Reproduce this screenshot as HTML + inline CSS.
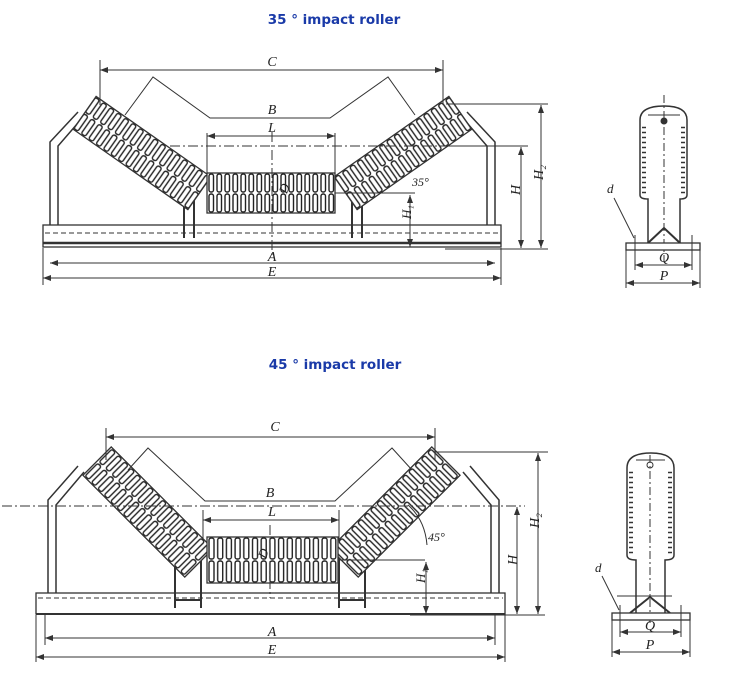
<!DOCTYPE html>
<html><head><meta charset="utf-8"><style>
html,body{margin:0;padding:0;background:#fff}
svg{display:block}
text{font-family:"Liberation Serif",serif;font-style:italic;fill:#222}
.t{font-family:"DejaVu Sans","Liberation Sans",sans-serif;font-style:normal;font-weight:bold;fill:#1a3aa8;font-size:13.5px}
</style></head><body>
<svg width="729" height="685" viewBox="0 0 729 685" xmlns="http://www.w3.org/2000/svg">
<defs>
<pattern id="rib" width="9" height="20" patternUnits="userSpaceOnUse" x="0" y="0">
<rect width="9" height="20" fill="#fff"/>
<rect x="2" y="1" width="5" height="18" rx="2" fill="#fff" stroke="#222" stroke-width="1.4"/>
</pattern>
<pattern id="ribc1" width="8" height="20" patternUnits="userSpaceOnUse" x="207" y="173">
<rect width="8" height="20" fill="#fff"/>
<rect x="2" y="1" width="4.5" height="18" rx="2" fill="#fff" stroke="#222" stroke-width="1.4"/>
</pattern>
<pattern id="ribc2" width="8.7" height="23" patternUnits="userSpaceOnUse" x="207" y="537">
<rect width="9" height="23" fill="#fff"/>
<rect x="2" y="1" width="5" height="21" rx="2" fill="#fff" stroke="#222" stroke-width="1.4"/>
</pattern>
<pattern id="rib2" width="4" height="5" patternUnits="userSpaceOnUse">
<rect width="4" height="5" fill="#fff"/><line x1="0" y1="2.5" x2="4" y2="2.5" stroke="#333" stroke-width="1.5"/>
</pattern>
<marker id="a" markerWidth="8" markerHeight="6" refX="8" refY="3" orient="auto-start-reverse"><path d="M0,0 L8,3 L0,6z" fill="#333"/></marker>
</defs>
<g stroke="#333" fill="none" stroke-width="1">
<text class="t" x="334" y="24" text-anchor="middle" stroke="none">35 ° impact roller</text>
<text class="t" x="335" y="369" text-anchor="middle" stroke="none">45 ° impact roller</text>

<!-- ===== Diagram 1 ===== -->
<path d="M50,240 L50,142 L78,112 M58,240 L58,146 L84,116" stroke-width="1.5"/>
<path d="M495,240 L495,142 L467,112 M487,240 L487,146 L461,116" stroke-width="1.5"/>
<rect x="43" y="225" width="458" height="22" fill="#fff" stroke-width="1.3"/>
<line x1="43" y1="243" x2="501" y2="243" stroke-width="2.5"/>
<line x1="45" y1="233" x2="499" y2="233" stroke-dasharray="5,3"/>
<path d="M184,238 V190 M194,238 V190 M352,238 V190 M362,238 V190" stroke-width="2"/>
<g transform="translate(142,153) rotate(35)"><rect x="-70" y="-20" width="140" height="40" fill="url(#rib)" stroke-width="1.3"/></g>
<g transform="translate(403,153) rotate(-35)"><rect x="-70" y="-20" width="140" height="40" fill="url(#rib)" stroke-width="1.3"/></g>
<rect x="207" y="173" width="128" height="40" fill="url(#ribc1)" stroke-width="1.3"/>
<line x1="272" y1="132" x2="272" y2="255" stroke-dasharray="10,3,2,3"/>
<line x1="170" y1="146" x2="490" y2="146" stroke-dasharray="10,3,2,3"/>
<line x1="100" y1="60" x2="100" y2="105"/><line x1="443" y1="60" x2="443" y2="105"/>
<line x1="100" y1="70" x2="443" y2="70" marker-start="url(#a)" marker-end="url(#a)"/>
<text x="272" y="66" font-size="14" stroke="none" text-anchor="middle">C</text>
<path d="M125,115 L153,77 L210,118 L330,118 L388,77 L415,115"/>
<text x="272" y="114" font-size="14" stroke="none" text-anchor="middle">B</text>
<line x1="207" y1="133" x2="207" y2="175"/><line x1="335" y1="133" x2="335" y2="175"/>
<line x1="207" y1="136" x2="335" y2="136" marker-start="url(#a)" marker-end="url(#a)"/>
<text x="272" y="132" font-size="14" stroke="none" text-anchor="middle">L</text>
<text x="283" y="197" font-size="13" stroke="none" transform="rotate(-70 283 193)">D</text>
<line x1="50" y1="263" x2="495" y2="263" marker-start="url(#a)" marker-end="url(#a)"/>
<line x1="43" y1="278" x2="501" y2="278" marker-start="url(#a)" marker-end="url(#a)"/>
<line x1="43" y1="248" x2="43" y2="285"/><line x1="501" y1="248" x2="501" y2="285"/>
<text x="272" y="261" font-size="14" stroke="none" text-anchor="middle">A</text>
<text x="272" y="276" font-size="14" stroke="none" text-anchor="middle">E</text>
<line x1="335" y1="193" x2="415" y2="193"/>
<line x1="410" y1="195" x2="410" y2="247" marker-start="url(#a)" marker-end="url(#a)"/>
<text x="408" y="228" font-size="13" stroke="none" transform="rotate(-90 405 222)">H₁</text>
<text x="412" y="186" font-size="12" stroke="none" font-style="normal">35°</text>
<line x1="440" y1="146" x2="528" y2="146"/>
<line x1="446" y1="104" x2="548" y2="104"/>
<line x1="445" y1="249" x2="548" y2="249"/>
<line x1="521" y1="147" x2="521" y2="248" marker-start="url(#a)" marker-end="url(#a)"/>
<line x1="541" y1="105" x2="541" y2="248" marker-start="url(#a)" marker-end="url(#a)"/>
<text x="515" y="200" font-size="14" stroke="none" transform="rotate(-90 515 195)">H</text>
<text x="535" y="188" font-size="14" stroke="none" transform="rotate(-90 535 180)">H₂</text>

<!-- side view 1 -->
<path d="M640,195 V120 Q640,106 664,106 Q687,106 687,120 V195 Q687,199 680,199 V243 M640,195 Q640,199 648,199 V243" stroke-width="1.5" fill="#fff"/>
<rect x="642" y="125" width="4" height="70" fill="url(#rib2)" stroke="none"/>
<rect x="681" y="125" width="4" height="70" fill="url(#rib2)" stroke="none"/>
<line x1="648" y1="115" x2="680" y2="115"/>
<circle cx="664" cy="121" r="3" fill="#333"/>
<line x1="664" y1="95" x2="664" y2="262" stroke-dasharray="8,3,2,3"/>
<path d="M648,243 L664,228 L680,243" stroke-width="2"/>
<rect x="626" y="243" width="74" height="7" fill="#fff" stroke-width="1.3"/>
<line x1="635" y1="235" x2="635" y2="270"/><line x1="692" y1="235" x2="692" y2="270"/>
<line x1="626" y1="250" x2="626" y2="288"/><line x1="700" y1="250" x2="700" y2="288"/>
<line x1="635" y1="265" x2="692" y2="265" marker-start="url(#a)" marker-end="url(#a)"/>
<line x1="626" y1="283" x2="700" y2="283" marker-start="url(#a)" marker-end="url(#a)"/>
<text x="664" y="262" font-size="14" stroke="none" text-anchor="middle">Q</text>
<text x="664" y="280" font-size="14" stroke="none" text-anchor="middle">P</text>
<text x="607" y="193" font-size="13" stroke="none">d</text>
<line x1="614" y1="198" x2="634" y2="238"/>

<!-- ===== Diagram 2 ===== -->
<path d="M48,610 L48,500 L78,466 M56,610 L56,505 L84,472" stroke-width="1.5"/>
<path d="M499,610 L499,500 L470,466 M491,610 L491,505 L463,472" stroke-width="1.5"/>
<rect x="36" y="593" width="469" height="21" fill="#fff" stroke-width="1.3"/>
<line x1="36" y1="614" x2="505" y2="614" stroke-width="2"/>
<line x1="38" y1="598" x2="503" y2="598" stroke-dasharray="5,3"/>
<path d="M175,608 V560 H198 M201,608 V555 M175,600 H201 M339,608 V555 M365,608 V560 H342 M339,600 H365" stroke-width="2"/>
<g transform="translate(148,512) rotate(45)"><rect x="-72" y="-20" width="144" height="40" fill="url(#rib)" stroke-width="1.3"/></g>
<g transform="translate(395,512) rotate(-45)"><rect x="-72" y="-20" width="144" height="40" fill="url(#rib)" stroke-width="1.3"/></g>
<rect x="207" y="537" width="131" height="46" fill="url(#ribc2)" stroke-width="1.3"/>
<line x1="270" y1="525" x2="270" y2="598" stroke-dasharray="10,3,2,3"/>
<line x1="2" y1="506" x2="525" y2="506" stroke-dasharray="10,3,2,3"/>
<line x1="106" y1="428" x2="106" y2="460"/><line x1="435" y1="428" x2="435" y2="460"/>
<line x1="106" y1="437" x2="435" y2="437" marker-start="url(#a)" marker-end="url(#a)"/>
<text x="275" y="431" font-size="14" stroke="none" text-anchor="middle">C</text>
<path d="M128,470 L148,448 L205,501 L335,501 L392,448 L412,470"/>
<text x="270" y="497" font-size="14" stroke="none" text-anchor="middle">B</text>
<line x1="203" y1="510" x2="203" y2="540"/><line x1="339" y1="510" x2="339" y2="540"/>
<line x1="203" y1="520" x2="339" y2="520" marker-start="url(#a)" marker-end="url(#a)"/>
<text x="272" y="516" font-size="14" stroke="none" text-anchor="middle">L</text>
<text x="262" y="562" font-size="13" stroke="none" transform="rotate(-70 262 558)">D</text>
<line x1="338" y1="560" x2="425" y2="560"/>
<line x1="426" y1="562" x2="426" y2="614" marker-start="url(#a)" marker-end="url(#a)"/>
<text x="422" y="590" font-size="13" stroke="none" transform="rotate(-90 420 585)">H₁</text>
<text x="428" y="541" font-size="12" stroke="none" font-style="normal">45°</text>
<path d="M408,505 Q425,520 427,545"/>
<line x1="410" y1="615" x2="545" y2="615"/>
<line x1="435" y1="452" x2="548" y2="452"/>
<line x1="517" y1="507" x2="517" y2="614" marker-start="url(#a)" marker-end="url(#a)"/>
<line x1="538" y1="453" x2="538" y2="614" marker-start="url(#a)" marker-end="url(#a)"/>
<text x="512" y="570" font-size="14" stroke="none" transform="rotate(-90 512 565)">H</text>
<text x="532" y="535" font-size="14" stroke="none" transform="rotate(-90 532 528)">H₂</text>
<line x1="45" y1="615" x2="45" y2="645"/><line x1="36" y1="615" x2="36" y2="662"/>
<line x1="495" y1="615" x2="495" y2="645"/><line x1="505" y1="615" x2="505" y2="662"/>
<line x1="45" y1="638" x2="495" y2="638" marker-start="url(#a)" marker-end="url(#a)"/>
<line x1="36" y1="657" x2="505" y2="657" marker-start="url(#a)" marker-end="url(#a)"/>
<text x="272" y="636" font-size="14" stroke="none" text-anchor="middle">A</text>
<text x="272" y="654" font-size="14" stroke="none" text-anchor="middle">E</text>

<!-- side view 2 -->
<path d="M627,555 V468 Q627,453 651,453 Q674,453 674,468 V555 Q674,560 665,560 V613 M627,555 Q627,560 636,560 V613" stroke-width="1.5" fill="#fff"/>
<rect x="629" y="470" width="4" height="85" fill="url(#rib2)" stroke="none"/>
<rect x="668" y="470" width="4" height="85" fill="url(#rib2)" stroke="none"/>
<line x1="636" y1="460" x2="665" y2="460"/>
<circle cx="650" cy="465" r="3" fill="#fff"/>
<line x1="650" y1="455" x2="650" y2="625" stroke-dasharray="8,3,2,3"/>
<line x1="617" y1="596" x2="672" y2="596"/>
<path d="M630,613 L650,597 L670,613" stroke-width="2"/>
<rect x="612" y="613" width="78" height="7" fill="#fff" stroke-width="1.3"/>
<line x1="620" y1="605" x2="620" y2="637"/><line x1="681" y1="605" x2="681" y2="637"/>
<line x1="612" y1="620" x2="612" y2="657"/><line x1="690" y1="620" x2="690" y2="657"/>
<line x1="620" y1="632" x2="681" y2="632" marker-start="url(#a)" marker-end="url(#a)"/>
<line x1="612" y1="652" x2="690" y2="652" marker-start="url(#a)" marker-end="url(#a)"/>
<text x="650" y="630" font-size="14" stroke="none" text-anchor="middle">Q</text>
<text x="650" y="649" font-size="14" stroke="none" text-anchor="middle">P</text>
<text x="595" y="572" font-size="13" stroke="none">d</text>
<line x1="602" y1="576" x2="619" y2="610"/>
</g>
</svg>
</body></html>
